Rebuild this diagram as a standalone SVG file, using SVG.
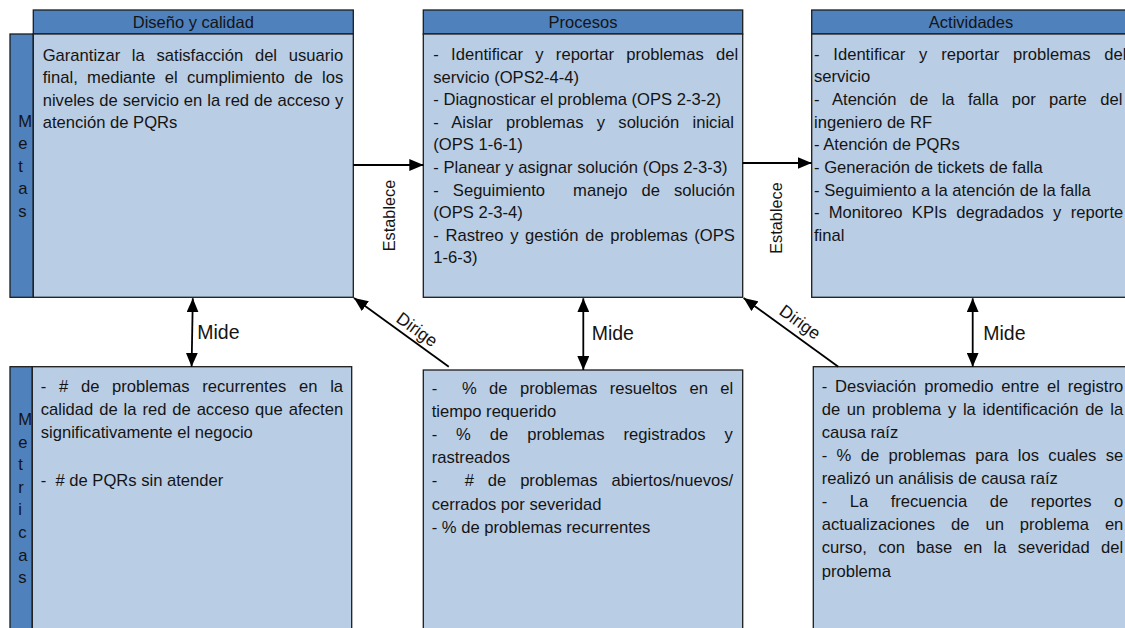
<svg xmlns="http://www.w3.org/2000/svg" width="1125" height="628" viewBox="0 0 1125 628">
  <style>
    .hdr { fill: #4F81BD; stroke: #1c1c1c; stroke-width: 1.3; }
    .body { fill: #B9CDE5; stroke: #1c1c1c; stroke-width: 1.3; }
    .bar { fill: #4F81BD; stroke: #1c1c1c; stroke-width: 1.3; }
    .t { font-family: "Liberation Sans", Arial, sans-serif; font-size: 16.6px; fill: #141414; }
    .h { font-family: "Liberation Sans", Arial, sans-serif; font-size: 16.5px; fill: #141414; text-anchor: middle; }
    .lbl { font-family: "Liberation Sans", Arial, sans-serif; font-size: 19.5px; fill: #141414; }
    .dl { font-family: "Liberation Sans", Arial, sans-serif; font-size: 17.5px; fill: #141414; text-anchor: middle; }
    .el { font-family: "Liberation Sans", Arial, sans-serif; font-size: 16.3px; fill: #141414; text-anchor: middle; }
    .conn { stroke: #000; stroke-width: 1.8; fill: none; }
  </style>
  <defs>
    <marker id="arrow" viewBox="0 0 14 12" refX="14" refY="6" markerWidth="14" markerHeight="12" markerUnits="userSpaceOnUse" orient="auto-start-reverse">
      <path d="M0,0 L14,6 L0,12 Z" fill="#000"/>
    </marker>
  </defs>

  <!-- Goals: design and quality -->
  <g id="metas-diseno">
    <rect class="bar" x="10" y="34" width="23.3" height="263.3"/>
    <rect class="hdr" x="33.3" y="10" width="320" height="24"/>
    <rect class="body" x="33.3" y="34" width="320" height="263.3"/>
    <text class="h" x="193.3" y="28.3">Diseño y calidad</text>
    <text class="t" x="18.3" y="126.6">M</text>
    <text class="t" x="18.3" y="149.1">e</text>
    <text class="t" x="18.3" y="171.6">t</text>
    <text class="t" x="18.3" y="194.1">a</text>
    <text class="t" x="18.3" y="216.6">s</text>
    <text class="t" x="42.7" y="60.7" word-spacing="7.1">Garantizar la satisfacción del usuario</text>
    <text class="t" x="42.7" y="83.2" word-spacing="4.76">final, mediante el cumplimiento de los</text>
    <text class="t" x="42.7" y="105.7" word-spacing="0.33">niveles de servicio en la red de acceso y</text>
    <text class="t" x="42.7" y="128.2">atención de PQRs</text>
  </g>

  <!-- Processes -->
  <g id="procesos">
    <rect class="hdr" x="423.3" y="10" width="319.4" height="24"/>
    <rect class="body" x="423.3" y="34" width="319.4" height="263.3"/>
    <text class="h" x="583" y="28.3">Procesos</text>
    <text class="t" x="433.3" y="60" word-spacing="7.66">- Identificar y reportar problemas del</text>
    <text class="t" x="433.3" y="82.6">servicio (OPS2-4-4)</text>
    <text class="t" x="433.3" y="105.2">- Diagnosticar el problema (OPS 2-3-2)</text>
    <text class="t" x="433.3" y="127.8" word-spacing="8.68">- Aislar problemas y solución inicial</text>
    <text class="t" x="433.3" y="150.4">(OPS 1-6-1)</text>
    <text class="t" x="433.3" y="173">- Planear y asignar solución (Ops 2-3-3)</text>
    <text class="t" x="433.3" y="195.6" word-spacing="9.4" xml:space="preserve">- Seguimiento  manejo de solución</text>
    <text class="t" x="433.3" y="218.2">(OPS 2-3-4)</text>
    <text class="t" x="433.3" y="240.8" word-spacing="2.0">- Rastreo y gestión de problemas (OPS</text>
    <text class="t" x="433.3" y="263.4">1-6-3)</text>
  </g>

  <!-- Activities -->
  <g id="actividades">
    <rect class="hdr" x="811.7" y="10" width="330" height="24"/>
    <rect class="body" x="811.7" y="34" width="330" height="263.3"/>
    <text class="h" x="971" y="28.3">Actividades</text>
    <text class="t" x="814" y="59.7" word-spacing="9.18">- Identificar y reportar problemas del</text>
    <text class="t" x="814" y="82.35">servicio</text>
    <text class="t" x="814" y="105" word-spacing="8.73">- Atención de la falla por parte del</text>
    <text class="t" x="814" y="127.65">ingeniero de RF</text>
    <text class="t" x="814" y="150.3">- Atención de PQRs</text>
    <text class="t" x="814" y="172.95">- Generación de tickets de falla</text>
    <text class="t" x="814" y="195.6">- Seguimiento a la atención de la falla</text>
    <text class="t" x="814" y="218.25" word-spacing="4.66">- Monitoreo KPIs degradados y reporte</text>
    <text class="t" x="814" y="240.9">final</text>
  </g>

  <!-- Metrics: design and quality -->
  <g id="metricas-diseno">
    <rect class="bar" x="10" y="366.7" width="22.3" height="280"/>
    <rect class="body" x="32.3" y="366.7" width="319.4" height="280"/>
    <text class="t" x="18.3" y="425">M</text>
    <text class="t" x="18.3" y="447.6">e</text>
    <text class="t" x="18.3" y="470.2">t</text>
    <text class="t" x="18.3" y="492.8">r</text>
    <text class="t" x="18.3" y="515.4">i</text>
    <text class="t" x="18.3" y="538">c</text>
    <text class="t" x="18.3" y="560.6">a</text>
    <text class="t" x="18.3" y="583.2">s</text>
    <text class="t" x="40.7" y="391.7" word-spacing="8.12">- # de problemas recurrentes en la</text>
    <text class="t" x="40.7" y="415" word-spacing="1.3">calidad de la red de acceso que afecten</text>
    <text class="t" x="40.7" y="438.3">significativamente el negocio</text>
    <text class="t" x="40.7" y="486" xml:space="preserve">-  # de PQRs sin atender</text>
  </g>

  <!-- Metrics: processes -->
  <g id="metricas-procesos">
    <rect class="body" x="423.3" y="370" width="319.4" height="280"/>
    <text class="t" x="431.7" y="394" word-spacing="7.76" xml:space="preserve">-  % de problemas resueltos en el</text>
    <text class="t" x="431.7" y="417.1">tiempo requerido</text>
    <text class="t" x="431.7" y="440.2" word-spacing="14.3">- % de problemas registrados y</text>
    <text class="t" x="431.7" y="463.3">rastreados</text>
    <text class="t" x="431.7" y="486.4" word-spacing="9.2" xml:space="preserve">-  # de problemas abiertos/nuevos/</text>
    <text class="t" x="431.7" y="509.5">cerrados por severidad</text>
    <text class="t" x="431.7" y="532.6">- % de problemas recurrentes</text>
  </g>

  <!-- Metrics: activities -->
  <g id="metricas-actividades">
    <rect class="body" x="813.3" y="366.7" width="330" height="280"/>
    <text class="t" x="821.7" y="391.7" word-spacing="3.3">- Desviación promedio entre el registro</text>
    <text class="t" x="821.7" y="414.8" word-spacing="2.09">de un problema y la identificación de la</text>
    <text class="t" x="821.7" y="437.9">causa raíz</text>
    <text class="t" x="821.7" y="461" word-spacing="4.73">- % de problemas para los cuales se</text>
    <text class="t" x="821.7" y="484.1">realizó un análisis de causa raíz</text>
    <text class="t" x="821.7" y="507.2" word-spacing="17.9">- La frecuencia de reportes o</text>
    <text class="t" x="821.7" y="530.3" word-spacing="11.3">actualizaciones de un problema en</text>
    <text class="t" x="821.7" y="553.4" word-spacing="6.74">curso, con base en la severidad del</text>
    <text class="t" x="821.7" y="576.5">problema</text>
  </g>

  <!-- Connectors and their labels -->
  <g id="connectors">
    <line class="conn" x1="353.3" y1="165" x2="423.3" y2="165" marker-end="url(#arrow)"/>
    <line class="conn" x1="742.7" y1="163" x2="811.7" y2="163" marker-end="url(#arrow)"/>
    <line class="conn" x1="192.8" y1="298.3" x2="191.6" y2="366.7" marker-start="url(#arrow)" marker-end="url(#arrow)"/>
    <line class="conn" x1="583.3" y1="298.3" x2="583.3" y2="370" marker-start="url(#arrow)" marker-end="url(#arrow)"/>
    <line class="conn" x1="972.7" y1="298.3" x2="972.7" y2="366.7" marker-start="url(#arrow)" marker-end="url(#arrow)"/>
    <line class="conn" x1="448.8" y1="366.7" x2="354" y2="298" marker-end="url(#arrow)"/>
    <line class="conn" x1="838.3" y1="366.7" x2="743.6" y2="298" marker-end="url(#arrow)"/>

    <text class="el" transform="translate(395,215.5) rotate(-90)">Establece</text>
    <text class="el" transform="translate(782,218) rotate(-90)">Establece</text>
    <text class="lbl" x="197.3" y="339.3">Mide</text>
    <text class="lbl" x="591.7" y="340">Mide</text>
    <text class="lbl" x="983.3" y="340">Mide</text>
    <text class="dl" transform="translate(413.6,334.4) rotate(35.9)">Dirige</text>
    <text class="dl" transform="translate(796.6,326.9) rotate(35.9)">Dirige</text>
  </g>
</svg>
